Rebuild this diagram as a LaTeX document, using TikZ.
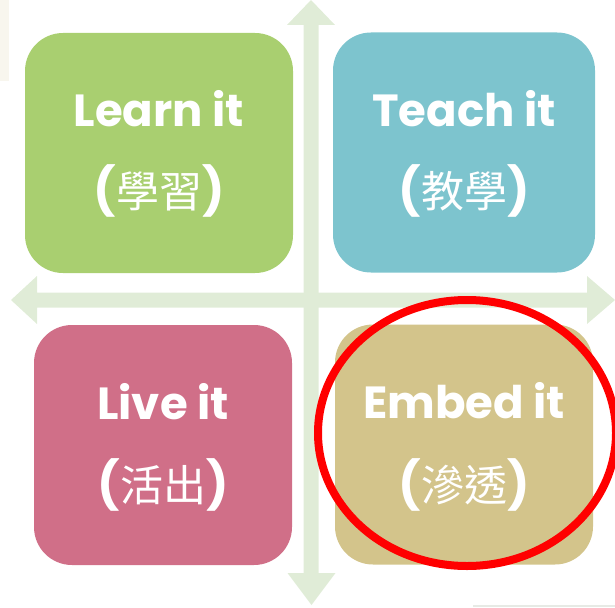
\documentclass[tikz,border=0pt]{standalone}
\usepackage{fontspec}
\setmainfont{Poppins}
\newfontfamily\cjk{Noto Sans CJK TC}
\usetikzlibrary{positioning, calc}

\definecolor{learngreen}{HTML}{A9CF70}
\definecolor{teachblue}{HTML}{7DC4CE}
\definecolor{livepink}{HTML}{D06F88}
\definecolor{embedtan}{HTML}{D3C48B}
\definecolor{axisgreen}{HTML}{E0ECD7}
\definecolor{paperbeige}{HTML}{F8F6EE}

\tikzset{
  quad/.style={rounded corners=38pt, inner sep=0pt, minimum height=240pt},
  entext/.style={text=white, anchor=base, inner sep=0pt,
    font=\bfseries\fontsize{45}{50}\selectfont},
  zhtext/.style={text=white, anchor=center, inner sep=0pt,
    font=\bfseries\fontsize{47}{50}\selectfont}
}
\newcommand{\zh}[1]{({\cjk\mdseries\fontsize{43}{48}\selectfont #1})}

\begin{document}
\begin{tikzpicture}[x=1pt, y=-1pt]
    % draw the background
    \useasboundingbox (0,0) rectangle (615,607);
    \clip (0,0) rectangle (615,607);
    \fill[paperbeige] (0,0) rectangle (9,81);
    \draw[color=axisgreen!70!gray!40, line width=2pt] (473,606) -- (615,606);

    % the axes
    \fill[axisgreen] (303.5,25) -- (287,25) -- (311,0) -- (335,25) -- (318.5,25)
        -- (318.5,573) -- (335.5,573) -- (311.5,605) -- (287.5,573) -- (303.5,573) -- cycle;
    \fill[axisgreen] (37,292.5) -- (37,276) -- (11,300) -- (37,324) -- (37,307.5)
        -- (587,307.5) -- (587,324) -- (615,300) -- (587,276) -- (587,292.5) -- cycle;

    % the four boxes
    \node[quad, fill=learngreen, minimum width=268pt] (learn) at (159,153) {};
    \node[quad, fill=teachblue,  minimum width=262pt] (teach) at (464,152.5) {};
    \node[quad, fill=livepink,   minimum width=258pt] (live)  at (163,445) {};
    \node[quad, fill=embedtan,   minimum width=258pt] (embed) at (464,444.5) {};

    % labels
    \node[entext] (learn-en) at ([yshift=26pt]learn.center) {Learn it};
    \node[zhtext] (learn-zh) at ([yshift=-38pt]learn.center) {\zh{學習}};
    \node[entext] (teach-en) at ([yshift=26pt]teach.center) {Teach it};
    \node[zhtext] (teach-zh) at ([yshift=-38pt]teach.center) {\zh{教學}};
    \node[entext] (live-en) at ([yshift=26pt]live.center) {Live it};
    \node[zhtext] (live-zh) at ([yshift=-40pt]live.center) {\zh{活出}};
    \node[entext] (embed-en) at ([yshift=26pt]embed.center) {Embed it};
    \node[zhtext] (embed-zh) at ([yshift=-40pt]embed.center) {\zh{滲透}};

    % the red ring
    \draw[red, line width=8pt] (467,433) ellipse [x radius=149, y radius=133];
\end{tikzpicture}
\end{document}
